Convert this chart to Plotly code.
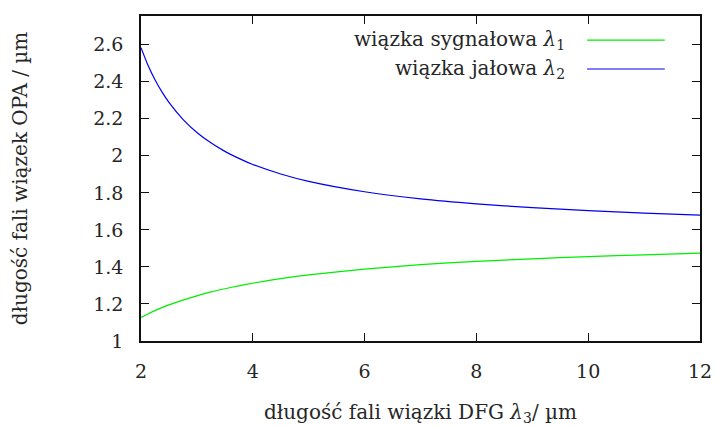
import plotly.graph_objects as go

# DFG wavelength (x) and OPA wavelengths
lambda3 = [2.0, 2.125, 2.25, 2.375, 2.5, 2.75, 3.0, 3.25, 3.5, 3.75, 4.0, 4.5, 5.0, 6.0, 7.0, 8.0, 9.0, 10.0, 11.0, 12.0]
signal = [1.127, 1.146, 1.164, 1.180, 1.195, 1.221, 1.244, 1.265, 1.282, 1.298, 1.312, 1.337, 1.357, 1.388, 1.412, 1.430, 1.444, 1.456, 1.465, 1.474]
idler = [2.584, 2.489, 2.411, 2.345, 2.288, 2.197, 2.126, 2.070, 2.024, 1.986, 1.953, 1.902, 1.862, 1.806, 1.768, 1.741, 1.720, 1.704, 1.691, 1.680]

names = ["wiązka sygnałowa <i>λ</i><sub>1</sub>", "wiązka jałowa <i>λ</i><sub>2</sub>"]
colors = ["#00ee00", "#0000ee"]
x_ticks = [2, 4, 6, 8, 10, 12]
y_ticks = [1, 1.2, 1.4, 1.6, 1.8, 2, 2.2, 2.4, 2.6]

FONT = "DejaVu Serif"
TXT = "#262626"

fig = go.Figure()
for ys, name, col in zip([signal, idler], names, colors):
    fig.add_trace(go.Scatter(x=lambda3, y=ys, mode="lines", name=name,
                             line=dict(color=col, width=1.2, shape="spline", smoothing=0.6),
                             showlegend=False))

# gnuplot-style key: right-aligned text with line sample on the right
key_y = [0.926, 0.837]
for name, col, ky in zip(names, colors, key_y):
    fig.add_annotation(xref="paper", yref="paper", x=0.762, y=ky, text=name,
                       showarrow=False, xanchor="right", yanchor="middle",
                       font=dict(family=FONT, size=20, color=TXT))
    fig.add_shape(type="line", xref="paper", yref="paper", x0=0.798, x1=0.937, y0=ky, y1=ky,
                  line=dict(color=col, width=1.2))

axis_common = dict(showline=True, linecolor="#111111", linewidth=1.5, mirror="ticks",
                   ticks="inside", ticklen=8, tickwidth=1.3, tickcolor="#111111",
                   showgrid=False, zeroline=False, automargin=False,
                   tickfont=dict(family=FONT, size=19, color=TXT))

fig.update_layout(
    width=717, height=426,
    margin=dict(l=141, r=17, t=16, b=85),
    plot_bgcolor="white", paper_bgcolor="white",
    xaxis=dict(range=[2, 12], tickvals=x_ticks, ticklabelstandoff=12,
               title=dict(text="długość fali wiązki DFG <i>λ</i><sub>3</sub>/ µm",
                          font=dict(family=FONT, size=20, color=TXT), standoff=30),
               **axis_common),
    yaxis=dict(range=[1, 2.755], tickvals=y_ticks, ticklabelstandoff=12,
               title=dict(text="długość fali wiązek OPA / µm",
                          font=dict(family=FONT, size=20, color=TXT), standoff=60),
               **axis_common),
)

fig.write_html("out.html")
